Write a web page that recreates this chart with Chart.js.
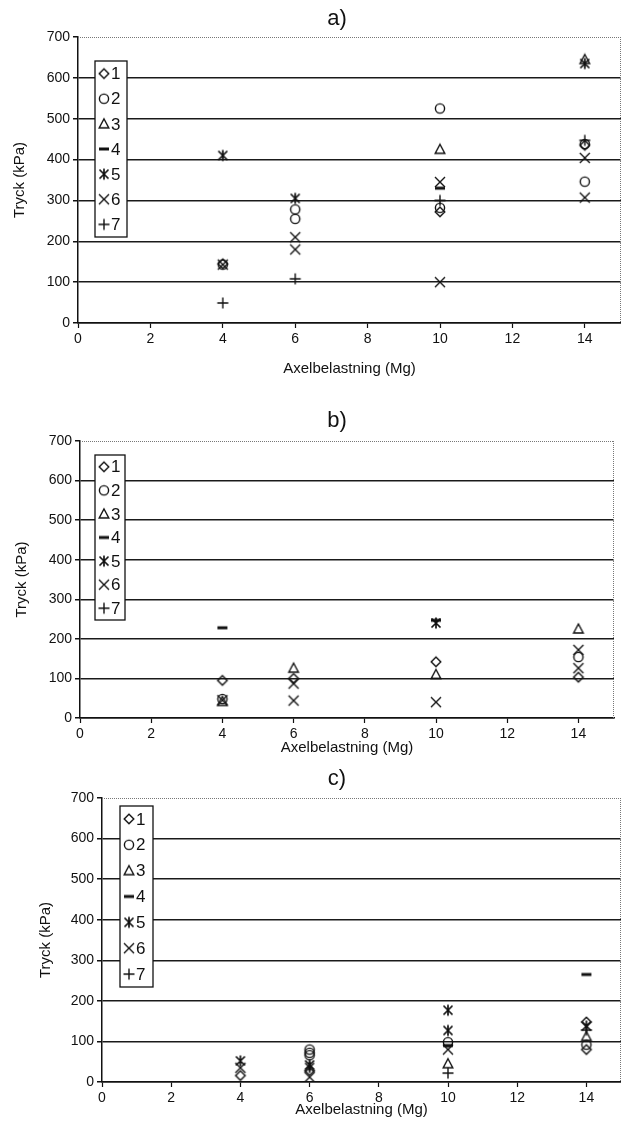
<!DOCTYPE html>
<html>
<head>
<meta charset="utf-8">
<title>Tryck mot axelbelastning</title>
<script src="https://cdn.jsdelivr.net/npm/chart.js@4.4.0/dist/chart.umd.min.js"></script>
<style>
  html, body { margin: 0; padding: 0; background: #fff; }
  body { width: 621px; height: 1130px; overflow: hidden; position: relative; font-family: "Liberation Sans", Arial, sans-serif; }
  .panel { position: absolute; left: 0; width: 621px; overflow: visible; }
  .panel canvas { display: block; }
  .panel-title { position: absolute; left: 337px; transform: translate(-50%, -50%); font-size: 22px; color: #111; }
</style>
</head>
<body>
<div class="panel" style="top:0;height:378px">
  <canvas id="chartA" width="628" height="378"></canvas>
  <div class="panel-title" style="top:18px">a)</div>
</div>
<div class="panel" style="top:378px;height:390px">
  <canvas id="chartB" width="621" height="390"></canvas>
  <div class="panel-title" style="top:42px">b)</div>
</div>
<div class="panel" style="top:757px;height:373px">
  <canvas id="chartC" width="628" height="373"></canvas>
  <div class="panel-title" style="top:21px">c)</div>
</div>

<script>
// -----------------------------
// Data
// -----------------------------
const loads = [4, 6, 10, 14];               // axle load (Mg)
const xTicks = [0, 2, 4, 6, 8, 10, 12, 14];
const yTicks = [0, 100, 200, 300, 400, 500, 600, 700];
const seriesLabels = ['1', '2', '3', '4', '5', '6', '7'];

// readings per series, one list per axle load (kPa)
// a)
const a1 = [[145], [], [272], [435]];
const a2 = [[143], [278, 255], [525, 282], [438, 346]];
const a3 = [[], [], [425], [645]];
const a4 = [[], [], [330], []];
const a5 = [[410], [305], [], [635]];
const a6 = [[143], [210, 180], [345, 100], [404, 307]];
const a7 = [[49], [108], [300], [447]];

// b)
const b1 = [[95], [100], [142], [103]];
const b2 = [[48], [], [], [154]];
const b3 = [[42], [126], [110], [225]];
const b4 = [[228], [], [247], []];
const b5 = [[], [], [240], []];
const b6 = [[45], [87, 44], [40], [172, 126]];
const b7 = [[], [], [], []];

// c)
const c1 = [[16], [28], [], [148, 80]];
const c2 = [[], [80, 72, 66], [98], [92]];
const c3 = [[], [], [45], [112]];
const c4 = [[], [], [90], [265]];
const c5 = [[52], [42, 36], [177, 127], [138]];
const c6 = [[35], [12], [80], []];
const c7 = [[], [], [22], [128]];

// -----------------------------
// Marker symbols
// -----------------------------
const makeMarker = (kind) => {
  const c = document.createElement('canvas');
  c.width = 14;
  c.height = 14;
  const g = c.getContext('2d');
  g.strokeStyle = '#111';
  g.lineWidth = 1.4;
  g.beginPath();
  switch (kind) {
    case 'diamond':
      g.moveTo(7, 2.2); g.lineTo(11.8, 7); g.lineTo(7, 11.8); g.lineTo(2.2, 7); g.closePath();
      break;
    case 'circle':
      g.arc(7, 7, 4.6, 0, Math.PI * 2);
      break;
    case 'triangle':
      g.moveTo(7, 2); g.lineTo(11.8, 11); g.lineTo(2.2, 11); g.closePath();
      break;
    case 'dash':
      g.lineWidth = 3;
      g.moveTo(2, 7); g.lineTo(12, 7);
      break;
    case 'star':
      g.lineWidth = 1.7;
      g.moveTo(2.5, 2.5); g.lineTo(11.5, 11.5);
      g.moveTo(11.5, 2.5); g.lineTo(2.5, 11.5);
      g.moveTo(7, 1.5); g.lineTo(7, 12.5);
      break;
    case 'cross':
      g.moveTo(2, 2); g.lineTo(12, 12);
      g.moveTo(12, 2); g.lineTo(2, 12);
      break;
    case 'plus':
      g.moveTo(1.5, 7); g.lineTo(12.5, 7);
      g.moveTo(7, 1.5); g.lineTo(7, 12.5);
      break;
  }
  g.stroke();
  return c;
};

const markers = ['diamond', 'circle', 'triangle', 'dash', 'star', 'cross', 'plus'].map(makeMarker);

const toPoints = (vals) => loads.flatMap((x, i) => vals[i].map(y => ({ x, y })));

// -----------------------------
// Plugins
// -----------------------------
// dotted frame on top and right of the plot area
const framePlugin = {
  id: 'frame',
  afterDraw(chart) {
    const { ctx, chartArea: a } = chart;
    ctx.save();
    ctx.strokeStyle = '#777';
    ctx.lineWidth = 1;
    ctx.setLineDash([1, 1]);
    ctx.beginPath();
    ctx.moveTo(a.left, a.top + 0.5);
    ctx.lineTo(a.right, a.top + 0.5);
    ctx.moveTo(a.right - 0.5, a.top);
    ctx.lineTo(a.right - 0.5, a.bottom);
    ctx.stroke();
    ctx.restore();
  }
};

// boxed legend inside the plot area
const boxLegendPlugin = {
  id: 'boxLegend',
  afterDraw(chart, args, opts) {
    const { ctx, chartArea: a } = chart;
    const x = a.left + opts.dx;
    const y = a.top + opts.dy;
    const row = opts.h / seriesLabels.length;
    ctx.save();
    ctx.fillStyle = '#fff';
    ctx.fillRect(x, y, opts.w, opts.h);
    ctx.strokeStyle = '#111';
    ctx.lineWidth = 1.3;
    ctx.strokeRect(x, y, opts.w, opts.h);
    ctx.fillStyle = '#111';
    ctx.font = '17px "Liberation Sans", Arial, sans-serif';
    ctx.textBaseline = 'middle';
    seriesLabels.forEach((label, i) => {
      const cy = y + row * (i + 0.5);
      ctx.drawImage(markers[i], x + 2, cy - 7);
      ctx.fillText(label, x + 16, cy + 1);
    });
    ctx.restore();
  }
};

// -----------------------------
// Chart builder
// -----------------------------
const tickFont = { family: '"Liberation Sans", Arial, sans-serif', size: 14 };
const titleFont = { family: '"Liberation Sans", Arial, sans-serif', size: 15 };

const makePanel = (id, series, geom) => {
  const canvas = document.getElementById(id);
  const W = canvas.width;
  const H = canvas.height;

  new Chart(canvas, {
    type: 'scatter',
    data: {
      datasets: series.map((vals, i) => ({
        label: seriesLabels[i],
        data: toPoints(vals),
        pointStyle: markers[i],
        radius: 5,
        hoverRadius: 5
      }))
    },
    options: {
      responsive: false,
      animation: false,
      layout: { padding: { top: geom.top, right: W - geom.right, left: 0, bottom: 0 } },
      plugins: {
        legend: { display: false },
        tooltip: { enabled: false },
        boxLegend: geom.legend
      },
      scales: {
        x: {
          type: 'linear',
          min: 0,
          max: 15,
          afterBuildTicks: s => { s.ticks = xTicks.map(v => ({ value: v })); },
          afterFit: s => {
            s.height = H - geom.bottom;
            s.paddingLeft = 0;
            s.paddingRight = 0;
          },
          grid: { drawOnChartArea: false, drawTicks: true, tickLength: 5, tickColor: '#111', tickWidth: 1.2 },
          border: { color: '#111', width: 1.5 },
          ticks: { color: '#111', font: tickFont, padding: 3, maxRotation: 0 },
          title: { display: true, text: 'Axelbelastning (Mg)', color: '#111', font: titleFont, padding: { top: 0, bottom: geom.xTitlePad } }
        },
        y: {
          type: 'linear',
          min: 0,
          max: 700,
          afterBuildTicks: s => { s.ticks = yTicks.map(v => ({ value: v })); },
          afterFit: s => {
            s.width = geom.left;
            s.paddingTop = 0;
            s.paddingBottom = 0;
          },
          grid: {
            color: c => (c.tick && c.tick.value === 700 ? 'rgba(0,0,0,0)' : '#1a1a1a'),
            lineWidth: 1.5,
            drawTicks: true,
            tickLength: 5,
            tickColor: '#111'
          },
          border: { color: '#111', width: 1.5 },
          ticks: { color: '#111', font: tickFont, padding: 3 },
          title: { display: true, text: 'Tryck (kPa)', color: '#111', font: titleFont, padding: { top: geom.yTitlePad, bottom: 0 } }
        }
      }
    },
    plugins: [framePlugin, boxLegendPlugin]
  });
};

makePanel('chartA', [a1, a2, a3, a4, a5, a6, a7], {
  top: 37, bottom: 323, left: 78, right: 621,
  xTitlePad: 0, yTitlePad: 11,
  legend: { dx: 17, dy: 24, w: 32, h: 176 }
});

makePanel('chartB', [b1, b2, b3, b4, b5, b6, b7], {
  top: 63, bottom: 340, left: 80, right: 614,
  xTitlePad: 11, yTitlePad: 13,
  legend: { dx: 15, dy: 14, w: 30, h: 165 }
});

makePanel('chartC', [c1, c2, c3, c4, c5, c6, c7], {
  top: 41, bottom: 325, left: 102, right: 621,
  xTitlePad: 11, yTitlePad: 37,
  legend: { dx: 18, dy: 8, w: 33, h: 181 }
});
</script>
</body>
</html>
